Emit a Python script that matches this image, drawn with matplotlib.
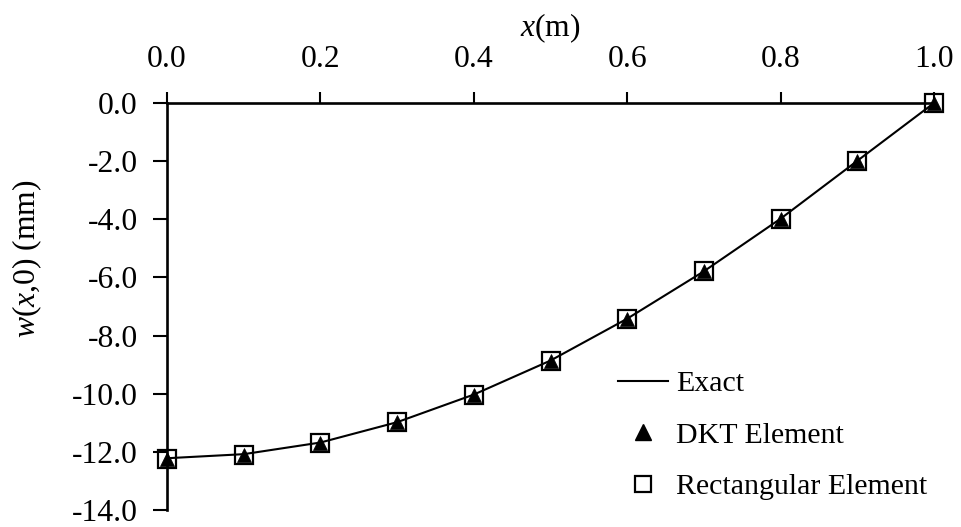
import matplotlib
matplotlib.use("Agg")
import matplotlib.pyplot as plt
from matplotlib.lines import Line2D

# Deflection along the edge y = 0
x_pos = [0.0, 0.1, 0.2, 0.3, 0.4, 0.5, 0.6, 0.7, 0.8, 0.9, 1.0]
w_exact = [-12.22, -12.08, -11.68, -10.98, -10.03, -8.86, -7.42, -5.79, -3.98, -1.99, 0.0]
w_dkt = [-12.24, -12.10, -11.69, -10.97, -10.03, -8.87, -7.42, -5.79, -3.98, -1.99, 0.0]
w_rect = [-12.24, -12.10, -11.69, -10.97, -10.03, -8.87, -7.42, -5.79, -3.98, -1.99, 0.0]

x_ticks = [0.0, 0.2, 0.4, 0.6, 0.8, 1.0]
y_ticks = [0.0, -2.0, -4.0, -6.0, -8.0, -10.0, -12.0, -14.0]

plt.rcParams["font.family"] = ["Liberation Serif", "DejaVu Serif"]
plt.rcParams["mathtext.fontset"] = "custom"
plt.rcParams["mathtext.rm"] = "Liberation Serif"
plt.rcParams["mathtext.it"] = "Liberation Serif:italic"
plt.rcParams["axes.unicode_minus"] = False

FS = 22.8
FS_LEG = 21.5

fig = plt.figure(figsize=(9.61, 5.27), dpi=100)
ax = fig.add_axes([0.1738, 0.0323, 0.7981, 0.7723])

ax.plot(x_pos, w_exact, color="black", lw=1.5, clip_on=False, zorder=3)
ax.plot(x_pos, w_rect, ls="none", marker="s", ms=12.5, mfc="none", mec="black",
        mew=1.6, clip_on=False, zorder=4)
ax.plot(x_pos, w_dkt, ls="none", marker="^", ms=10.5, mfc="black", mec="black",
        mew=0.5, clip_on=False, zorder=5)

ax.set_xlim(0, 1)
ax.set_ylim(-14, 0)

for side in ("right", "bottom"):
    ax.spines[side].set_visible(False)
for side in ("top", "left"):
    ax.spines[side].set_linewidth(1.9)
    ax.spines[side].set_color("black")

ax.xaxis.set_ticks_position("top")
ax.xaxis.set_label_position("top")
ax.set_xticks(x_ticks)
ax.set_xticklabels([f"{v:.1f}" for v in x_ticks])
ax.set_yticks(y_ticks)
ax.set_yticklabels([f"{v:.1f}" for v in y_ticks])
ax.tick_params(axis="x", direction="out", length=8, width=1.5, pad=13, labelsize=FS)
ax.tick_params(axis="y", direction="out", length=10, width=1.5, pad=11, labelsize=FS)

ax.set_xlabel(r"$x$(m)", fontsize=FS, labelpad=6)
ax.set_ylabel(r"$w$($x$,0) (mm)", fontsize=FS, va="center", ha="center")
ax.yaxis.set_label_coords(-0.182, 0.617)

handles = [
    Line2D([], [], color="black", lw=1.5),
    Line2D([], [], ls="none", marker="^", ms=11, mfc="black", mec="black"),
    Line2D([], [], ls="none", marker="s", ms=12, mfc="none", mec="black", mew=1.6),
]
labels = ["Exact", "DKT Element", "Rectangular Element"]
fig.legend(handles, labels, loc="upper left", bbox_to_anchor=(0.643, 0.297),
           frameon=False, fontsize=FS_LEG, handlelength=1.67, handletextpad=0.27,
           labelspacing=0.82, borderpad=0, borderaxespad=0)

fig.savefig("out.png", dpi=100)
